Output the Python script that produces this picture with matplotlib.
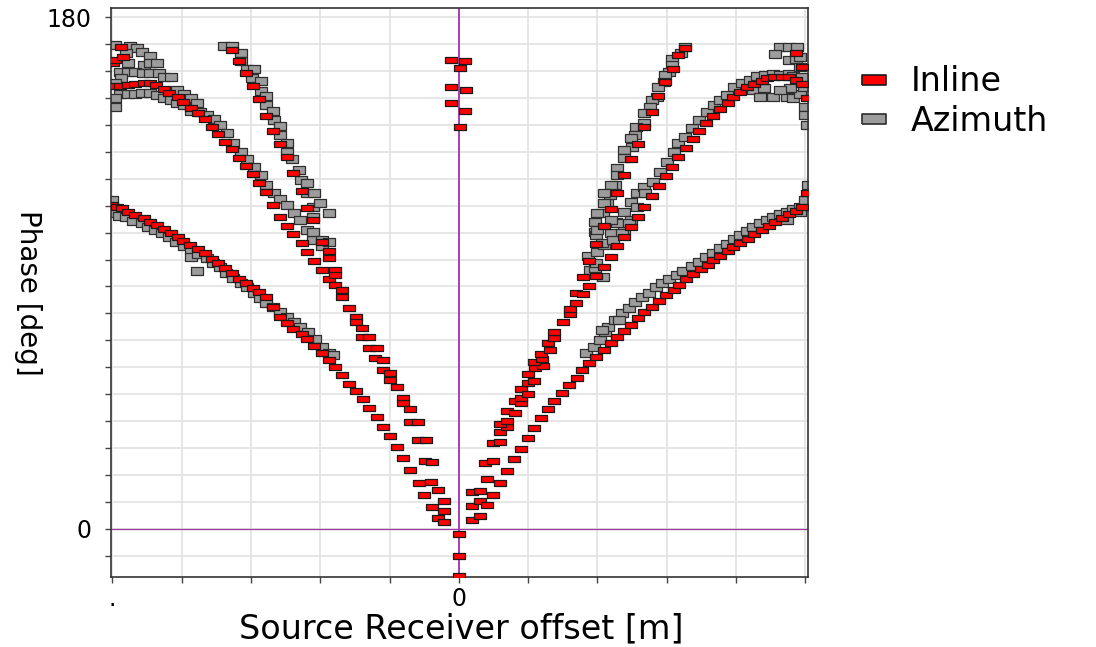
import matplotlib
matplotlib.use("Agg")
import matplotlib.pyplot as plt
import numpy as np
from matplotlib.lines import Line2D

plt.rcParams['font.family'] = ['DejaVu Sans']

# ---- data: offset [m], phase [deg] ----
# Inline (red)
inline_left_low_x = [-501, -494, -486, -477, -467, -455, -445, -435, -426, -416, -406, -398, -388, -376, -366,
                     -356, -347, -337, -327, -317, -307, -297, -288, -278, -268, -258, -248, -239, -227, -219,
                     -209, -198, -188, -178, -168, -158, -149, -139, -129, -118, -109, -99, -89, -80, -70,
                     -58, -50, -38, -30, -21]
inline_left_low_y = [113.9, 113.2, 112.8, 111.5, 110.4, 109.4, 108.0, 106.9, 105.5, 104.1, 102.7, 101.3, 99.9,
                     98.5, 97.1, 95.0, 93.6, 91.8, 90.1, 87.9, 86.5, 84.8, 83.4, 81.6, 78.1, 74.6, 72.5, 70.3,
                     68.6, 66.8, 64.4, 61.9, 59.4, 57.0, 54.2, 51.0, 48.5, 45.7, 42.6, 39.4, 35.9, 32.7, 28.8,
                     24.9, 20.8, 16.2, 12.0, 7.7, 3.9, 2.5]

inline_left_mid_x = [-500, -489, -477, -467, -455, -445, -437, -426, -418, -406, -398, -386, -376, -366, -356,
                     -347, -337, -327, -317, -307, -297, -288, -278, -268, -258, -248, -239, -227, -219, -209,
                     -198, -188, -178, -169, -169, -159, -149, -149, -140, -140, -130, -130, -118, -121, -109,
                     -109, -99, -99, -89, -80, -80, -70, -70, -59, -59, -48, -49, -39, -40, -30, -21, -21]
inline_left_mid_y = [155.9, 155.9, 156.2, 156.5, 156.9, 156.9, 156.2, 154.7, 153.3, 151.9, 150.2, 148.1, 146.3,
                     144.2, 141.4, 138.9, 136.1, 133.6, 130.5, 127.7, 124.9, 121.7, 118.5, 114.0, 109.7, 106.5,
                     103.7, 100.6, 97.4, 94.3, 91.1, 87.9, 85.8, 84.1, 81.7, 77.6, 74.5, 72.9, 70.6, 67.6, 67.4,
                     63.6, 63.6, 60.0, 59.4, 55.9, 54.8, 52.4, 49.8, 46.0, 44.2, 42.1, 37.7, 37.4, 31.3, 31.3,
                     23.7, 23.5, 16.3, 13.5, 9.6, 6.1]

inline_left_steep_x = [-327, -317, -307, -297, -288, -278, -268, -258, -248, -239, -227, -219, -210, -198,
                       -188, -187, -178, -178, -499, -487, -496, -485]
inline_left_steep_y = [168.5, 164.6, 160.4, 155.8, 151.2, 145.3, 140.0, 135.4, 130.8, 125.2, 118.9, 112.9,
                       108.7, 100.9, 97.8, 95.3, 91.1, 89.3, 164.1, 169.5, 164.9, 165.9]

inline_center_x = [0, 0, 0, -11, 9, 1, -11, 11, -11, 9, 1]
inline_center_y = [-1.8, -9.5, -16.5, 164.9, 164.6, 162.1, 155.4, 154.4, 149.8, 147.0, 141.4]

inline_right_low_x = [50, 60, 70, 80, 90, 100, 109, 119, 129, 138, 149, 159, 170, 178, 188, 198, 209, 220,
                      229, 239, 249, 258, 268, 279, 289, 299, 310, 318, 328, 338, 349, 359, 367, 377, 388,
                      396, 406, 418, 426, 438, 447, 457, 467, 476, 487, 496, 503]
inline_right_low_y = [12.0, 16.2, 20.4, 24.6, 28.1, 32.0, 35.5, 39.0, 42.2, 45.0, 47.8, 50.6, 53.1, 55.9, 58.4,
                      60.5, 63.0, 65.4, 67.5, 69.6, 71.7, 74.2, 76.3, 78.1, 80.2, 82.3, 84.1, 85.8, 87.9, 89.7,
                      91.4, 92.8, 94.6, 96.0, 97.8, 99.2, 100.6, 102.0, 103.7, 105.2, 106.6, 108.0, 109.4,
                      110.8, 111.8, 113.2, 118.2]

inline_right_mid_x = [19, 31, 19, 30, 41, 19, 31, 41, 38, 50, 50, 60, 60, 70, 60, 70, 70, 81, 81, 90, 90, 90,
                      100, 100, 109, 100, 110, 121, 109, 120, 119, 131, 129, 138, 138, 150, 160, 160, 169, 169,
                      179, 188, 179, 198, 210, 219, 229, 239, 249, 258, 268, 279, 289, 299, 308, 317, 328, 338,
                      347, 357, 367, 377, 388, 396, 406, 416, 426, 437, 445, 455, 467, 476, 487, 496, 487, 496,
                      503]
inline_right_mid_y = [3.2, 4.3, 8.1, 9.6, 8.2, 12.8, 13.1, 17.6, 23.3, 23.7, 30.1, 30.4, 34.2, 35.8, 36.9, 38.0,
                      41.6, 40.9, 44.8, 44.2, 46.0, 49.1, 47.5, 51.2, 52.1, 54.5, 56.5, 57.3, 58.8, 59.7, 61.5,
                      63.0, 65.5, 67.1, 69.4, 72.6, 75.6, 77.3, 79.4, 82.9, 82.5, 85.5, 88.5, 89.0, 92.3, 95.8,
                      99.5, 102.8, 106.3, 109.7, 113.2, 117.1, 120.6, 124.2, 127.3, 130.8, 134.0, 137.2, 140.0,
                      142.8, 145.3, 147.7, 149.8, 151.9, 153.7, 155.5, 156.5, 157.6, 158.6, 159.0, 159.0, 159.0,
                      157.9, 162.5, 167.4, 156.5, 151.6]

inline_right_steep_x = [188, 198, 210, 219, 229, 238, 248, 258, 267, 279, 288, 298, 309, 317, 327]
inline_right_steep_y = [94.4, 100.2, 106.6, 112.4, 118.3, 124.5, 130.0, 135.6, 141.5, 146.8, 152.3, 157.3,
                        162.0, 166.7, 169.1]

# Azimuth (grey)
azimuth_left_low_x = [-500, -498, -491, -481, -470, -457, -448, -438, -428, -419, -408, -397, -387, -387, -378,
                      -376, -364, -355, -345, -336, -326, -315, -306, -296, -287, -278, -268, -258, -248, -238,
                      -229, -218, -208, -198, -188, -181]
azimuth_left_low_y = [115.7, 111.0, 110.1, 109.8, 108.4, 107.5, 106.3, 105.2, 104.0, 102.6, 101.0, 99.5, 98.1,
                      95.6, 90.8, 96.7, 95.2, 93.4, 92.0, 90.1, 88.2, 86.6, 85.2, 82.9, 81.3, 79.4, 78.0, 76.4,
                      74.7, 72.9, 71.1, 69.4, 66.7, 64.1, 62.0, 61.2]

azimuth_left_upper_x = [-496, -475, -465, -457, -445, -481, -477, -455, -445, -436, -489, -477, -467, -456,
                        -445, -433, -426, -416, -488, -496, -489, -477, -467, -457, -445, -436, -426, -416,
                        -407, -397, -496, -496, -407, -397, -387, -378, -387, -373, -363, -354, -344, -335,
                        -326, -315, -306, -296, -286, -278, -267, -258, -248, -238, -229, -219, -210, -197]
azimuth_left_upper_y = [170.2, 169.9, 169.1, 167.9, 166.4, 167.3, 163.8, 163.2, 163.8, 163.8, 160.8, 160.8,
                        160.8, 160.5, 160.3, 160.3, 159.1, 159.1, 158.5, 156.8, 153.2, 153.2, 153.2, 153.4,
                        153.4, 152.6, 151.5, 150.9, 149.9, 149.1, 151.5, 148.5, 154.4, 153.2, 151.5, 149.7,
                        147.0, 146.8, 145.6, 144.4, 142.1, 139.2, 135.9, 132.7, 130.0, 127.4, 124.5, 121.0,
                        118.1, 116.0, 113.9, 111.0, 108.7, 105.2, 101.6, 99.5]

azimuth_left_steep_x = [-339, -327, -315, -315, -306, -296, -298, -286, -286, -278, -279, -268, -267, -258,
                        -258, -248, -248, -241, -230, -228, -219, -219, -209, -210, -200, -210, -188, -210,
                        -197, -188]
azimuth_left_steep_y = [169.9, 169.9, 167.5, 164.6, 161.7, 161.7, 158.5, 157.6, 154.2, 152.4, 149.1, 147.0,
                        143.8, 141.7, 138.6, 135.7, 132.7, 130.0, 126.3, 122.7, 121.6, 118.1, 118.1, 113.4,
                        114.8, 109.8, 111.2, 104.6, 101.6, 101.0]

azimuth_right_low_x = [184, 195, 204, 211, 216, 226, 236, 245, 255, 264, 274, 284, 293, 303, 315, 324, 337,
                       346, 357, 367, 377, 387, 397, 406, 416, 425, 435, 445, 454, 464, 474, 483, 493, 500,
                       504, 474, 493, 207, 231]
azimuth_right_low_y = [61.8, 64.1, 66.5, 69.4, 71.1, 73.5, 75.9, 77.6, 79.9, 81.5, 83.1, 85.0, 86.4, 87.8,
                       89.3, 90.8, 92.5, 94.0, 95.6, 97.2, 98.7, 100.2, 101.9, 103.4, 104.9, 106.1, 107.5,
                       108.7, 109.6, 110.7, 111.6, 112.4, 113.4, 115.7, 121.0, 108.7, 111.5, 70.0, 73.5]

azimuth_right_mid_x = [186, 189, 197, 199, 197, 197, 208, 214, 218, 226, 238, 248, 248, 257, 267, 227, 219,
                       210, 208, 238, 198, 198, 207, 228, 245, 236, 257, 269, 281, 291, 300, 310, 317, 327,
                       337, 346, 358, 368, 377, 387, 397, 409, 421, 430, 442, 454, 464, 476, 483, 425, 440,
                       435, 454, 474, 483, 493, 500, 500, 498, 478, 464, 464, 476, 488, 457, 476, 486, 493,
                       493, 495, 503]
azimuth_right_mid_y = [96.0, 91.1, 91.7, 97.5, 104.6, 108.1, 111.0, 114.5, 117.5, 121.0, 111.6, 115.1, 108.7,
                       118.1, 120.4, 108.1, 104.0, 99.9, 88.7, 105.2, 103.4, 93.7, 100.5, 107.5, 107.5, 104.0,
                       113.4, 118.1, 122.1, 125.7, 129.2, 132.7, 135.7, 138.0, 140.9, 143.8, 146.8, 149.1,
                       150.9, 152.6, 155.6, 156.8, 157.9, 159.3, 159.7, 160.0, 159.7, 160.0, 159.3, 154.4,
                       155.0, 152.0, 152.0, 152.0, 151.5, 153.2, 148.5, 145.6, 155.6, 155.0, 154.4, 169.6,
                       169.6, 169.6, 167.1, 164.9, 165.5, 166.1, 162.6, 159.1, 142.1]

azimuth_right_steep_x = [327, 320, 308, 308, 303, 298, 296, 288, 286, 279, 276, 267, 267, 256, 255, 248, 250,
                         238, 238, 228, 228, 219, 209, 209, 199, 219, 199, 223]
azimuth_right_steep_y = [169.6, 167.3, 165.5, 163.2, 160.8, 159.7, 157.3, 155.6, 152.0, 150.9, 148.5, 146.2,
                         142.7, 141.5, 138.6, 137.4, 134.5, 133.3, 130.4, 126.9, 124.5, 121.0, 118.1, 114.5,
                         111.0, 108.7, 105.2, 101.6]

inline_x = inline_left_low_x + inline_left_mid_x + inline_left_steep_x + inline_center_x + \
    inline_right_low_x + inline_right_mid_x + inline_right_steep_x
inline_y = inline_left_low_y + inline_left_mid_y + inline_left_steep_y + inline_center_y + \
    inline_right_low_y + inline_right_mid_y + inline_right_steep_y
azimuth_x = azimuth_left_low_x + azimuth_left_upper_x + azimuth_left_steep_x + \
    azimuth_right_low_x + azimuth_right_mid_x + azimuth_right_steep_x
azimuth_y = azimuth_left_low_y + azimuth_left_upper_y + azimuth_left_steep_y + \
    azimuth_right_low_y + azimuth_right_mid_y + azimuth_right_steep_y

# flat rectangle marker
rect = [(-1, -0.6), (1, -0.6), (1, 0.6), (-1, 0.6), (-1, -0.6)]
rect_legend = [(-1, -0.46), (1, -0.46), (1, 0.46), (-1, 0.46), (-1, -0.46)]

fig = plt.figure(figsize=(10.96, 6.47), dpi=100)
ax = fig.add_axes([111 / 1096, 1 - 577 / 647, 697 / 1096, 569 / 647])

ax.axvline(0, color='#a020b0', lw=1.2, zorder=1)
ax.axhline(0, color='#9a3aa0', lw=0.9, zorder=1)

ax.scatter(azimuth_x, azimuth_y, s=72, marker=rect, facecolor='#9c9c9c', edgecolor='#2e2e2e',
           linewidths=0.9, zorder=2)
ax.scatter(inline_x, inline_y, s=64, marker=rect, facecolor='#ff0000', edgecolor='#1a1a1a',
           linewidths=0.9, zorder=3)

ax.set_xlim(-502, 504)
ax.set_ylim(-17, 183.3)

xt = np.arange(-500, 501, 100)
ax.set_xticks(xt)
ax.set_xticklabels(['.' if v == -500 else ('0' if v == 0 else '') for v in xt], fontsize=17)
yt = 180.0 * np.arange(-1, 20) / 19
ax.set_yticks(yt)
ax.set_yticklabels(['180' if k == 19 else ('0' if k == 0 else '') for k in range(-1, 20)], fontsize=17)
ax.tick_params(direction='out', length=4, width=1, color='#444444')
ax.tick_params(axis='x', pad=3)
ax.tick_params(axis='y', pad=10)
ax.grid(True, color='#e2e2e2', lw=1.2, zorder=0)
ax.set_axisbelow(True)
for s in ax.spines.values():
    s.set_color('#333333')
    s.set_linewidth(1.2)

ax.set_xlabel('Source Receiver offset [m]', fontsize=24, va='baseline')
ax.xaxis.set_label_coords(0.502, -0.108)
ax.set_ylabel('Phase [deg]', fontsize=20, rotation=-90, va='center', ha='center')
ax.yaxis.set_label_coords(-0.119, 0.5)

handles = [Line2D([], [], ls='none', marker=rect_legend, markersize=17, markerfacecolor='#ff0000',
                  markeredgecolor='#1a1a1a', markeredgewidth=1.2),
           Line2D([], [], ls='none', marker=rect_legend, markersize=17, markerfacecolor='#9c9c9c',
                  markeredgecolor='#2e2e2e', markeredgewidth=1.2)]
fig.legend(handles, ['Inline', 'Azimuth'], loc='upper left', bbox_to_anchor=(841 / 1096, 1 - 52 / 647),
           frameon=False, fontsize=24, handlelength=1.2, handletextpad=0.5, labelspacing=0.2,
           borderaxespad=0)

fig.savefig('out.png', dpi=100)
